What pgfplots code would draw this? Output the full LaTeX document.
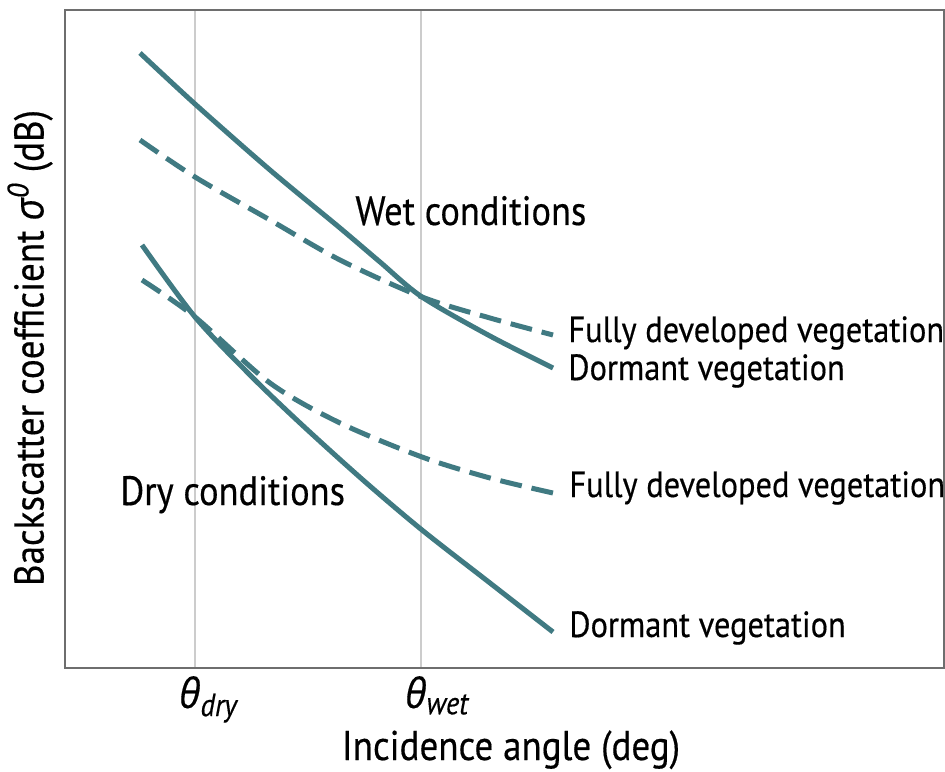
\documentclass[border=0pt]{standalone}
\usepackage{fontspec}
\setmainfont[FakeStretch=0.89, FakeBold=0.4]{PT Sans}
\newfontfamily\greek[FakeStretch=0.93, FakeBold=0.4]{Open Sans}
\usepackage{pgfplots}
\pgfplotsset{compat=1.18}
\definecolor{teal1}{RGB}{64,122,130}
\definecolor{spine}{RGB}{110,110,110}
\newcommand{\lab}{\fontsize{18.2}{20}\selectfont}
\newcommand{\condlab}{\fontsize{20.5}{22}\selectfont}
\newcommand{\axlab}{\fontsize{20.8}{22}\selectfont}
\begin{document}
\begin{tikzpicture}
\begin{axis}[
  scale only axis,
  width=439.5pt, height=329pt,
  xmin=65, xmax=944, ymin=103, ymax=761,
  axis line style={spine, line width=1.2pt},
  xtick={195,421},
  xticklabels={{\greek\itshape θ\textsubscript{\fontsize{16}{16}\selectfont\rmfamily\itshape dry}},{\greek\itshape θ\textsubscript{\fontsize{16}{16}\selectfont\rmfamily\itshape wet}}},
  ytick=\empty,
  major tick length=0pt,
  xmajorgrids, grid style={black!20, line width=0.6pt},
  xticklabel style={font=\axlab, anchor=base west, inner sep=0pt, yshift=-20pt, xshift=-8pt},
  clip=false,
  xlabel={Incidence angle (deg)},
  ylabel={Backscatter coefficient {\greek\itshape σ\textsuperscript{0}} (dB)},
  xlabel style={font=\axlab, at={(axis cs:511,11)}, anchor=base, inner sep=0pt},
  ylabel style={font=\axlab, at={(axis cs:30,423)}, anchor=center, inner sep=0pt, rotate=0},
]
\coordinate (BL) at (axis cs:0,0);
\coordinate (TR) at (axis cs:945,771);
% wet dormant (solid)
\addplot[teal1, line width=2.5pt, smooth, tension=0.5] coordinates {
 (140,718) (195,667) (270,601) (340,543) (380,509) (422,474) (490,435) (553,403)};
% wet fully developed (dashed)
\addplot[teal1, line width=2.5pt, smooth, tension=0.5, dash pattern=on 11pt off 5pt] coordinates {
 (140,631) (195,594) (270,551) (340,511) (422,474) (490,453) (553,436)};
% dry dormant (solid)
\addplot[teal1, line width=2.5pt, smooth, tension=0.5] coordinates {
 (142,526) (195,454) (250,396) (300,348) (363,291) (422,241) (490,188) (553,139)};
% dry fully developed (dashed)
\addplot[teal1, line width=2.5pt, smooth, tension=0.5, dash pattern=on 11pt off 5pt] coordinates {
 (142,491) (195,454) (270,388) (340,348) (422,314) (490,293) (553,278)};
\node[font=\condlab, anchor=base west, inner sep=0pt] at (axis cs:355,546) {Wet conditions};
\node[font=\condlab, anchor=base west, inner sep=0pt] at (axis cs:120,266) {Dry conditions};
\node[font=\lab, anchor=base west, inner sep=0pt] at (axis cs:568,429) {Fully developed vegetation};
\node[font=\lab, anchor=base west, inner sep=0pt] at (axis cs:568,391) {Dormant vegetation};
\node[font=\lab, anchor=base west, inner sep=0pt] at (axis cs:569,274) {Fully developed vegetation};
\node[font=\lab, anchor=base west, inner sep=0pt] at (axis cs:569,134) {Dormant vegetation};
\end{axis}
\pgfresetboundingbox
\path[use as bounding box] (BL) rectangle (TR);
\end{tikzpicture}
\end{document}
